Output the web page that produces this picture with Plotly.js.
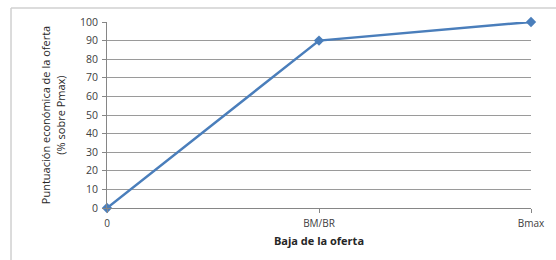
<!DOCTYPE html>
<html><head><meta charset="utf-8">
<script src="https://cdn.plot.ly/plotly-3.0.1.min.js"></script>
<style>body{margin:0;padding:0;background:#fff}#c{width:556px;height:260px}</style>
</head><body><div id="c"></div>
<script>
const categories = ["0", "BM/BR", "Bmax"];
const puntuacion = [0, 90, 100];
const yTicks = [0,10,20,30,40,50,60,70,80,90,100];

const trace = {
  x: categories, y: puntuacion, type: 'scatter', mode: 'lines+markers',
  line: {color: '#4a7ebb', width: 2.5},
  marker: {symbol: 'diamond', size: 8, color: '#4a7ebb'},
  cliponaxis: false,
  hoverinfo: 'skip'
};
const layout = {
  width: 556, height: 260,
  margin: {l: 107, r: 25, t: 22, b: 52},
  paper_bgcolor: '#fff', plot_bgcolor: '#fff',
  showlegend: false,
  font: {family: 'Open Sans, sans-serif', size: 10, color: '#404040'},
  xaxis: {
    type: 'category', range: [0, 2], showgrid: false, zeroline: false,
    showline: true, linecolor: '#868686', linewidth: 1,
    ticks: 'outside', ticklen: 4, tickcolor: '#868686', ticklabelstandoff: 2,
    tickfont: {size: 10, color: '#404040'},
    title: {text: '<b>Baja de la oferta</b>', font: {size: 11, color: '#262626'}, standoff: 8}
  },
  yaxis: {
    range: [0, 100], tickvals: yTicks, showgrid: true, gridcolor: '#9a9a9a', gridwidth: 1,
    zeroline: false, showline: true, linecolor: '#868686', linewidth: 1,
    ticks: 'outside', ticklen: 4, tickcolor: '#868686', ticklabelstandoff: 2,
    tickfont: {size: 10.5, color: '#404040'},
    title: {text: 'Puntuación económica de la oferta<br>(% sobre Pmax)', font: {size: 11, color: '#262626'}, standoff: 12}
  },
  shapes: [
    {type: 'line', xref: 'paper', yref: 'paper', x0: -0.2264, x1: 1.1, y0: 1.0753, y1: 1.0753, line: {color: '#d0d0d0', width: 1.5}},
    {type: 'line', xref: 'paper', yref: 'paper', x0: -0.2264, x1: -0.2264, y0: 1.0753, y1: -0.4, line: {color: '#d0d0d0', width: 1.5}}
  ]
};
Plotly.newPlot('c', [trace], layout, {staticPlot: true, displayModeBar: false});
</script></body></html>
